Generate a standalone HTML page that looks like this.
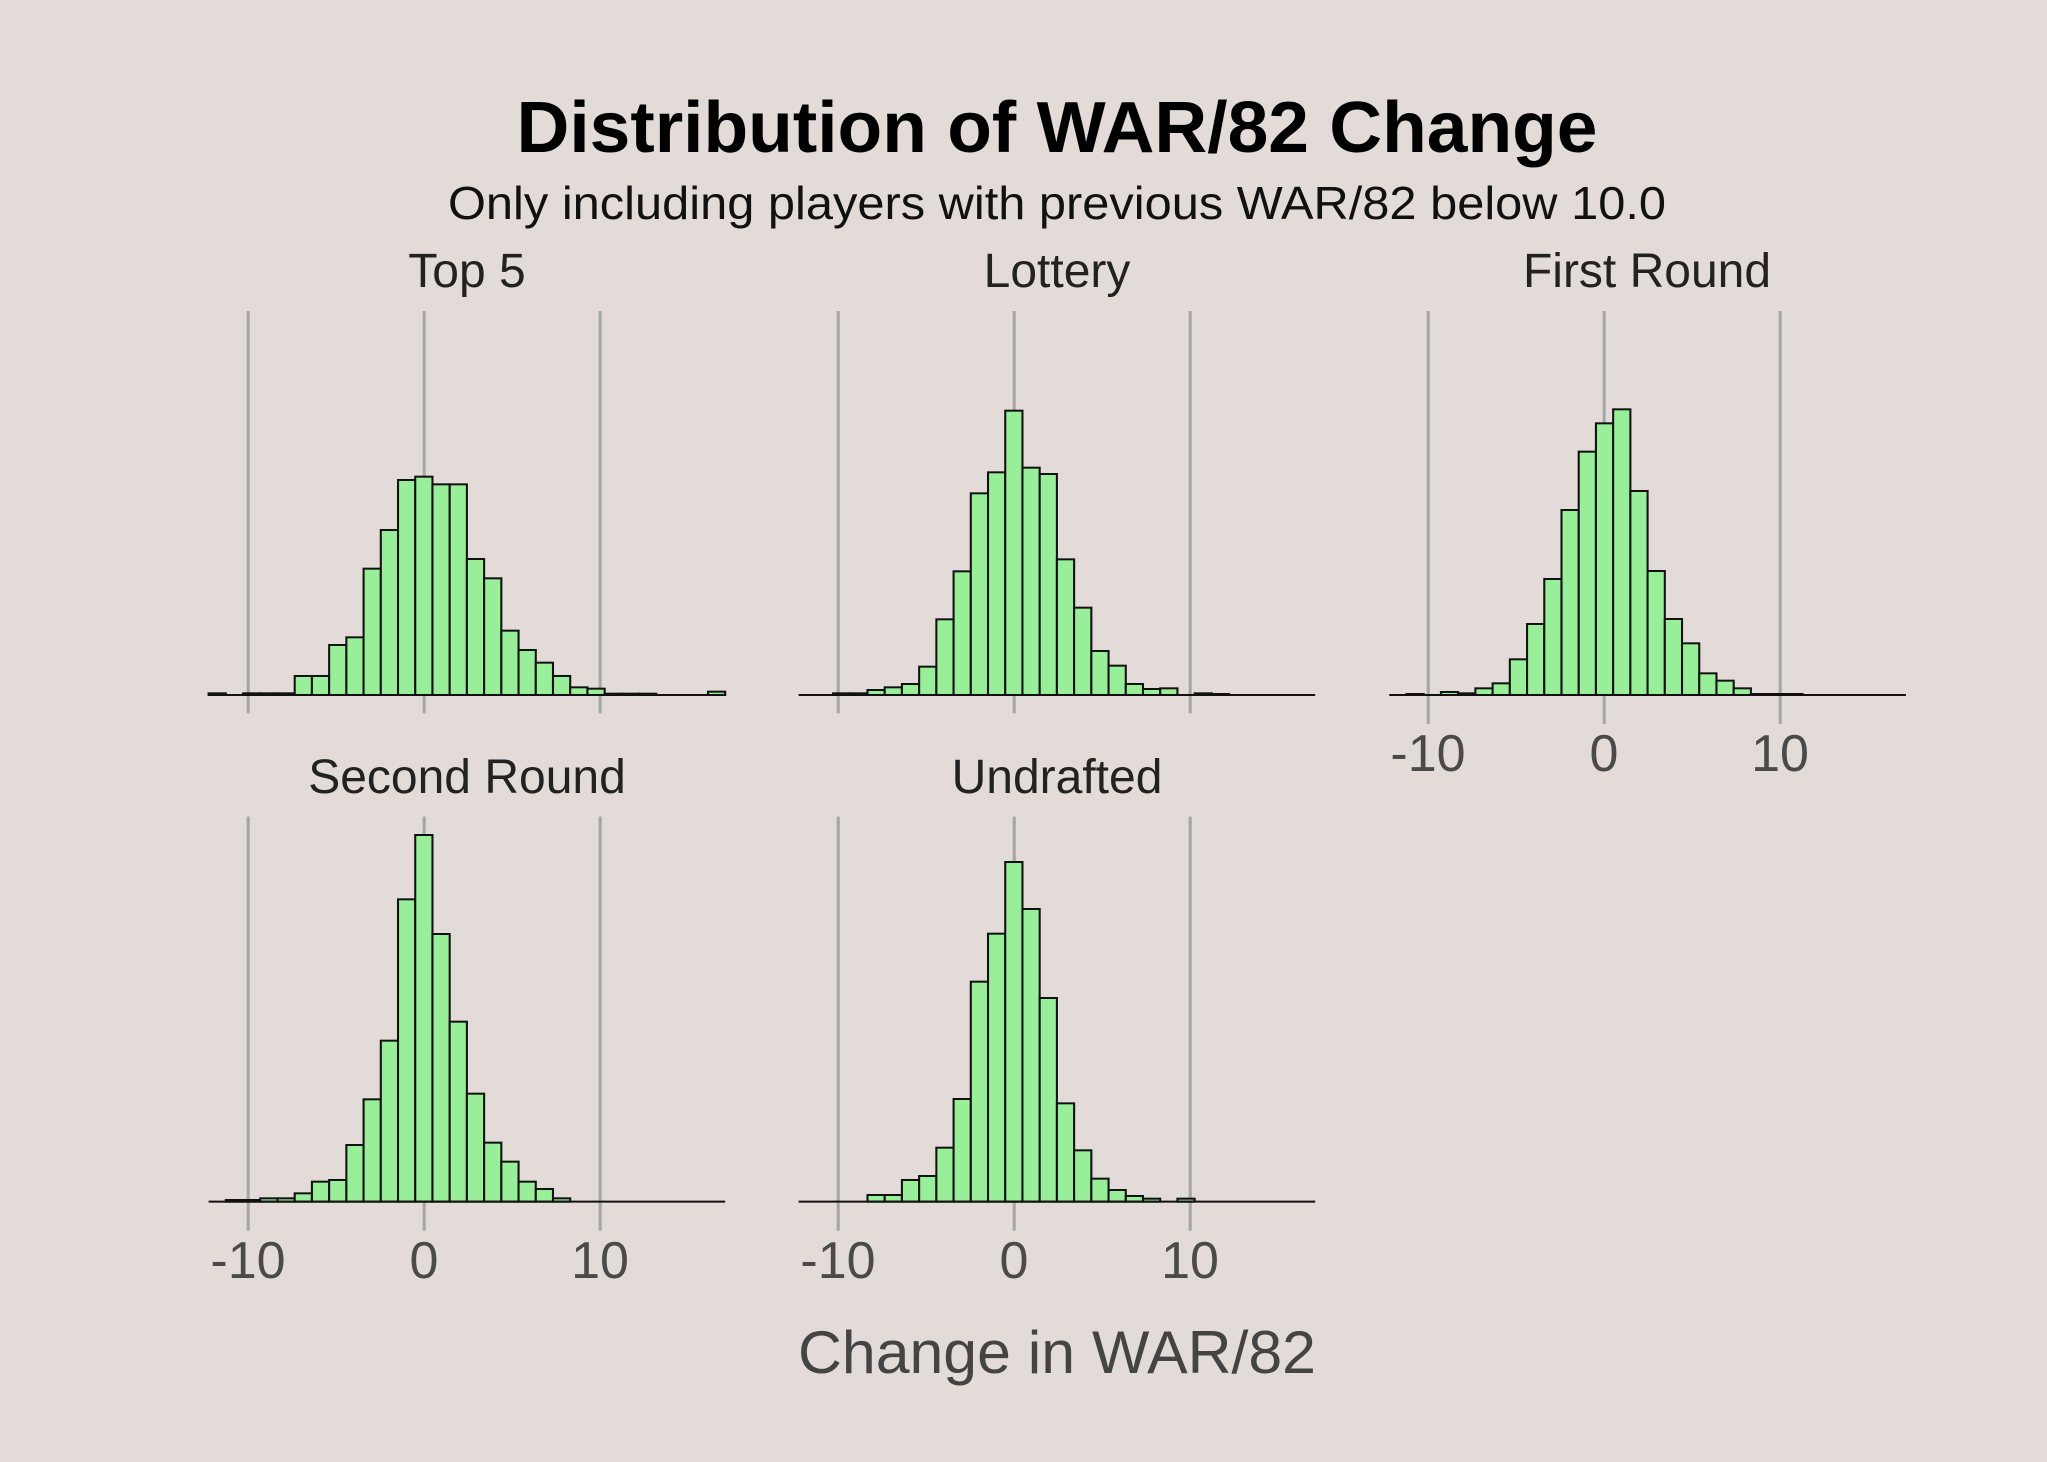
<!DOCTYPE html>
<html><head><meta charset="utf-8"><style>
html,body{margin:0;padding:0;background:#e3dbd7;}
svg{display:block;}
text{font-family:"Liberation Sans",Arial,sans-serif;}
</style></head><body>
<svg id="s" width="2047" height="1462" viewBox="0 0 2047 1462" xmlns="http://www.w3.org/2000/svg">
<rect width="2047" height="1462" fill="#e3dbd7"/>
<text x="1057" y="152" font-size="72" font-weight="bold" text-anchor="middle" textLength="1081" lengthAdjust="spacingAndGlyphs" fill="#000">Distribution of WAR/82 Change</text>
<text x="1057" y="219" font-size="46" text-anchor="middle" textLength="1218" lengthAdjust="spacingAndGlyphs" fill="#111">Only including players with previous WAR/82 below 10.0</text>
<g font-size="48" fill="#222" text-anchor="middle">
<text x="467" y="287">Top 5</text>
<text x="1057" y="287">Lottery</text>
<text x="1647" y="287">First Round</text>
<text x="467" y="793">Second Round</text>
<text x="1057" y="793">Undrafted</text>
</g>
<g font-size="52" fill="#4a4a4a" text-anchor="middle">
<text x="1428" y="771">-10</text><text x="1604" y="771">0</text><text x="1780" y="771">10</text>
<text x="248" y="1278">-10</text><text x="424" y="1278">0</text><text x="600" y="1278">10</text>
<text x="838" y="1278">-10</text><text x="1014" y="1278">0</text><text x="1190" y="1278">10</text>
</g>
<text x="1057" y="1373" font-size="60" fill="#444" text-anchor="middle" textLength="518" lengthAdjust="spacingAndGlyphs">Change in WAR/82</text>
<g id="panels"></g>
</svg>
<script>
var P=[
{ox:200,oy:300,b:1185,g0:33,g1:1240,x0:25,t:[1180,1185,1180,1180,1180,1128,1128,1035,1012,806,690,540,530,553,553,777,835,992,1050,1088,1128,1162,1166,1181,1181,1181,1185,1185,1185,1175]},
{ox:790,oy:300,b:1185,g0:33,g1:1240,x0:25,t:[1185,1185,1180,1180,1170,1162,1152,1100,958,814,580,517,332,503,522,778,923,1053,1097,1152,1167,1165,1185,1180,1182,1185,1185,1185,1185,1185]},
{ox:1380,oy:300,b:1185,g0:33,g1:1272,x0:27,t:[1185,1182,1185,1176,1180,1165,1150,1078,972,837,630,455,370,328,573,813,957,1030,1120,1142,1165,1182,1182,1182,1185,1185,1185,1185,1185,1185]},
{ox:200,oy:810,b:1175,g0:20,g1:1262,x0:25,t:[1175,1170,1170,1165,1165,1150,1115,1110,1005,868,692,268,75,372,635,851,998,1055,1115,1137,1165,1175,1175,1175,1175,1175,1175,1175,1175,1175]},
{ox:790,oy:810,b:1175,g0:20,g1:1262,x0:25,t:[1175,1175,1175,1175,1155,1155,1110,1098,1013,867,515,371,156,297,564,880,1021,1106,1140,1158,1166,1175,1166,1175,1175,1175,1175,1175,1175,1175]}
];
var h='';
P.forEach(function(p){
 h+='<g transform="translate('+p.ox+','+p.oy+') scale(0.34439,0.33333)">';
 [140,651,1162].forEach(function(x){h+='<line x1="'+x+'" x2="'+x+'" y1="'+p.g0+'" y2="'+p.g1+'" stroke="#a6a6a6" stroke-width="9"/>';});
 p.t.forEach(function(t,i){var x=p.x0+50*i;var hh=p.b-t;if(hh>0)h+='<rect x="'+x+'" y="'+t+'" width="50" height="'+hh+'" fill="#98ee99" stroke="#111" stroke-width="6"/>';});
 h+='<line x1="'+p.x0+'" x2="'+(p.x0+1500)+'" y1="'+p.b+'" y2="'+p.b+'" stroke="#111" stroke-width="6"/>';
 h+='</g>';
});
document.getElementById('panels').innerHTML=h;
</script>
</body></html>
